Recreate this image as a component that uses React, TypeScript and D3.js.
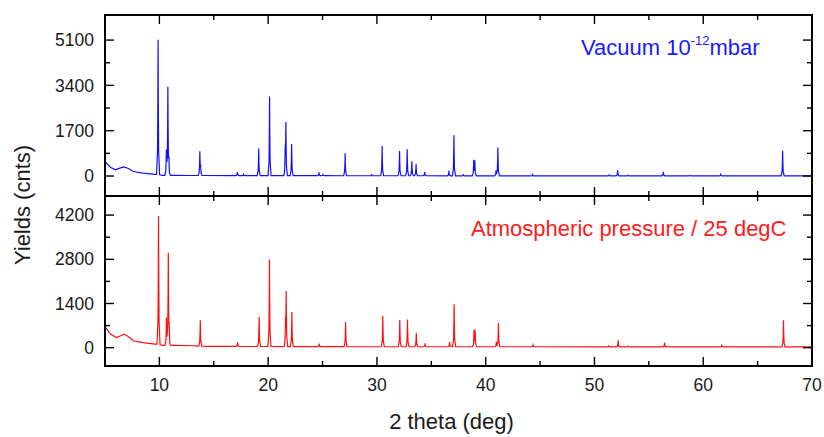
import React from "react";
import * as d3 from "d3";

// ---- Data ----
const xTicksMajor = [10, 20, 30, 40, 50, 60, 70];
const xTicksMinor = [15, 25, 35, 45, 55, 65];

const vacuumYMajor = [0, 1700, 3400, 5100];
const vacuumYMinor = [850, 2550, 4250];
const atmosYMajor = [0, 1400, 2800, 4200];
const atmosYMinor = [700, 2100, 3500];

// background [2theta, counts]
const vacuumBackground: [number, number][] = [
  [5, 540], [5.5, 330], [5.95, 230], [6.3, 285], [6.7, 345], [7.1, 290], [7.6, 170],
  [8.5, 110], [9.6, 65], [9.8, 60], [10.3, 25], [11.5, 25], [13, 20], [20, 12], [40, 8], [70, 6],
];
const atmosBackground: [number, number][] = [
  [5, 665], [5.5, 430], [6.05, 320], [6.4, 370], [6.75, 425], [7.1, 360], [7.6, 220],
  [8.5, 160], [9.6, 115], [9.8, 110], [10.3, 75], [11.5, 75], [13, 62], [14.5, 40], [20, 38], [30, 30], [40, 30], [70, 25],
];

// peaks [2theta, height above background]
const vacuumPeaks: [number, number][] = [
  [9.88, 5060], [10.64, 980], [10.78, 3290], [10.88, 450], [13.72, 870], [13.79, 280],
  [17.17, 130], [17.75, 45], [19.13, 1020], [20.13, 2970], [21.57, 850], [21.63, 1880],
  [22.16, 1190], [24.67, 125], [25.04, 45], [27.08, 845], [29.52, 35], [30.48, 1115],
  [32.08, 930], [32.78, 995], [33.21, 545], [33.6, 445], [34.39, 135], [36.62, 185],
  [37.08, 1525], [37.94, 35], [38.9, 555], [39.0, 535], [40.95, 205], [41.12, 1065],
  [44.3, 45], [51.34, 30], [52.13, 210], [53.08, 25], [56.33, 150], [58.8, 15],
  [61.6, 55], [67.3, 945],
];
const atmosPeaks: [number, number][] = [
  [9.92, 4070], [10.65, 880], [10.82, 2890], [10.9, 380], [13.76, 815], [17.19, 135],
  [19.17, 935], [20.12, 2755], [21.6, 660], [21.66, 1650], [22.18, 1095], [24.7, 95],
  [27.12, 785], [30.54, 975], [32.1, 845], [32.81, 865], [33.62, 435], [34.43, 105],
  [36.68, 155], [37.1, 1345], [38.93, 505], [39.03, 485], [40.98, 155], [41.17, 755],
  [44.36, 55], [51.3, 28], [52.18, 205], [53.1, 22], [56.45, 135], [61.7, 45], [67.38, 845],
];

// ---- Layout ----
const W = 824;
const H = 437;
const left = 105;
const right = 812;
const topY0 = 15;
const midY = 196;
const botY1 = 366;

const FONT = "'Liberation Sans', Arial, Helvetica, sans-serif";

// peak profile (offset in degrees, relative height)
const profile: [number, number][] = [
  [-0.14, 0], [-0.05, 0.18], [-0.02, 0.55], [0, 1], [0.02, 0.55], [0.05, 0.18], [0.14, 0],
];

function buildSeries(bg: [number, number][], peaks: [number, number][]): [number, number][] {
  const bgScale = d3.scaleLinear().domain(bg.map((d) => d[0])).range(bg.map((d) => d[1]));
  const xs = new Set<number>();
  bg.forEach((d) => xs.add(d[0]));
  peaks.forEach(([p]) => profile.forEach(([o]) => xs.add(+(p + o).toFixed(4))));
  const shapeScale = d3.scaleLinear().domain(profile.map((d) => d[0])).range(profile.map((d) => d[1])).clamp(true);
  const sorted = Array.from(xs).filter((t) => t >= 5 && t <= 70).sort((a, b) => a - b);
  return sorted.map((t) => {
    let v = bgScale(t);
    peaks.forEach(([p, h]) => {
      const o = t - p;
      if (Math.abs(o) < 0.14) v += h * shapeScale(o);
    });
    return [t, v];
  });
}

export default function App() {
  const x = d3.scaleLinear().domain([5, 70]).range([left, right]);
  const yTop = d3.scaleLinear().domain([-750, 6041]).range([midY, topY0]);
  const yBot = d3.scaleLinear().domain([-580, 4805]).range([botY1, midY]);

  const vac = buildSeries(vacuumBackground, vacuumPeaks);
  const atm = buildSeries(atmosBackground, atmosPeaks);

  const lineTop = d3.line<[number, number]>().x((d) => x(d[0])).y((d) => yTop(d[1]));
  const lineBot = d3.line<[number, number]>().x((d) => x(d[0])).y((d) => yBot(d[1]));

  const majLen = 9;
  const minLen = 5;
  const tickStroke = 1.4;

  const xTickMarks = (yEdge: number, dir: number, key: string) => (
    <g key={key}>
      {xTicksMajor.map((t) => (
        <line key={"M" + t} x1={x(t)} x2={x(t)} y1={yEdge} y2={yEdge + dir * majLen} stroke="#000" strokeWidth={tickStroke} />
      ))}
      {xTicksMinor.map((t) => (
        <line key={"m" + t} x1={x(t)} x2={x(t)} y1={yEdge} y2={yEdge + dir * minLen} stroke="#000" strokeWidth={tickStroke} />
      ))}
    </g>
  );

  const yTickMarks = (scale: d3.ScaleLinear<number, number>, major: number[], minor: number[], key: string) => (
    <g key={key}>
      {major.map((v) => (
        <g key={"M" + v}>
          <line x1={left} x2={left + majLen} y1={scale(v)} y2={scale(v)} stroke="#000" strokeWidth={tickStroke} />
          <line x1={right} x2={right - majLen} y1={scale(v)} y2={scale(v)} stroke="#000" strokeWidth={tickStroke} />
          <text x={94} y={scale(v)} dy="0.35em" textAnchor="end" fontSize={17.5} fontFamily={FONT} fill="#1a1a1a">
            {v}
          </text>
        </g>
      ))}
      {minor.map((v) => (
        <g key={"m" + v}>
          <line x1={left} x2={left + minLen} y1={scale(v)} y2={scale(v)} stroke="#000" strokeWidth={tickStroke} />
          <line x1={right} x2={right - minLen} y1={scale(v)} y2={scale(v)} stroke="#000" strokeWidth={tickStroke} />
        </g>
      ))}
    </g>
  );

  return (
    <svg width={W} height={H} style={{ position: "absolute", left: 0, top: 0, background: "#fff" }}>
      <defs>
        <clipPath id="clipTop">
          <rect x={left} y={topY0} width={right - left} height={midY - topY0} />
        </clipPath>
        <clipPath id="clipBot">
          <rect x={left} y={midY} width={right - left} height={botY1 - midY} />
        </clipPath>
      </defs>

      <path d={lineTop(vac) || ""} fill="none" stroke="#1010ff" strokeWidth={1.2} clipPath="url(#clipTop)" />
      <path d={lineBot(atm) || ""} fill="none" stroke="#ff1010" strokeWidth={1.2} clipPath="url(#clipBot)" />

      {xTickMarks(topY0, 1, "t1")}
      {xTickMarks(midY, -1, "t2")}
      {xTickMarks(midY, 1, "t3")}
      {xTickMarks(botY1, -1, "t4")}
      {yTickMarks(yTop, vacuumYMajor, vacuumYMinor, "yt")}
      {yTickMarks(yBot, atmosYMajor, atmosYMinor, "yb")}

      <rect x={left} y={topY0} width={right - left} height={midY - topY0} fill="none" stroke="#000" strokeWidth={2} />
      <rect x={left} y={midY} width={right - left} height={botY1 - midY} fill="none" stroke="#000" strokeWidth={2} />

      {xTicksMajor.map((t) => (
        <text key={"xl" + t} x={x(t)} y={391} textAnchor="middle" fontSize={17.5} fontFamily={FONT} fill="#1a1a1a">
          {t}
        </text>
      ))}

      <text x={451.5} y={429} textAnchor="middle" fontSize={22} fontFamily={FONT} fill="#1a1a1a">
        2 theta (deg)
      </text>
      <text transform="translate(30,205) rotate(-90)" textAnchor="middle" fontSize={22} fontFamily={FONT} fill="#1a1a1a">
        Yields (cnts)
      </text>

      <text x={581} y={55} fontSize={22} fontFamily={FONT} fill="#1a1aff">
        Vacuum 10
        <tspan fontSize={13} dy={-10}>-12</tspan>
        <tspan dy={10}>mbar</tspan>
      </text>
      <text x={471} y={236} fontSize={22} fontFamily={FONT} fill="#ff1a1a">
        Atmospheric pressure / 25 degC
      </text>
    </svg>
  );
}
